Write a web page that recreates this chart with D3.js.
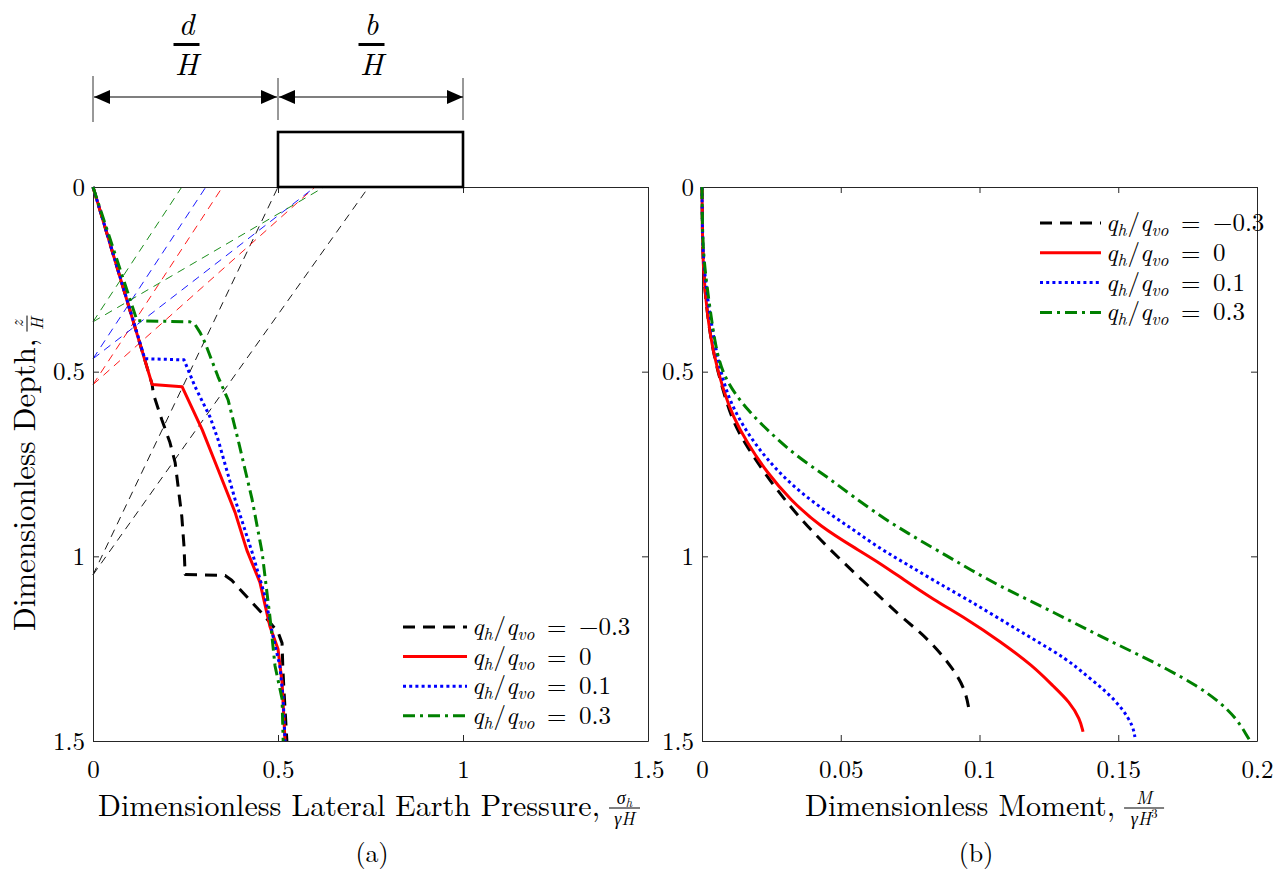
<!DOCTYPE html>
<html><head><meta charset="utf-8">
<script src="https://cdn.jsdelivr.net/npm/d3@7"></script>
<style>
body{margin:0;background:#fff}
svg{display:block}
text{font-family:"Latin Modern Roman","Liberation Serif",serif;fill:#000}
</style>
</head><body>
<svg id="c" width="1282" height="869"></svg>
<script>
// ---------------- DATA ----------------
const pressureTicks = [0, 0.5, 1, 1.5];
const momentTicks = [0, 0.05, 0.1, 0.15, 0.2];
const depthTicks = [0, 0.5, 1, 1.5];
const ratioLabels = ["\u22120.3", "0", "0.1", "0.3"];
const footingEdges = [0.5, 1.0];          // d/H and d/H + b/H
const dimLabels = ["d", "b"];

// lateral earth pressure [sigma_h/(gamma H), z/H]
const pressureM03 = [[0,0],[0.16,0.535],[0.163,0.56],[0.186,0.63],[0.208,0.692],[0.222,0.746],[0.23,0.811],[0.24,0.892],[0.246,0.973],[0.249,1.049],[0.357,1.052],[0.375,1.065],[0.405,1.098],[0.455,1.152],[0.50,1.205],[0.511,1.235],[0.513,1.3],[0.516,1.36],[0.52,1.43],[0.524,1.5]];
const pressure0 = [[0,0],[0.16,0.535],[0.241,0.541],[0.295,0.657],[0.338,0.765],[0.384,0.881],[0.416,0.984],[0.451,1.07],[0.478,1.189],[0.5,1.251],[0.511,1.341],[0.519,1.5]];
const pressure01 = [[0,0],[0.14,0.465],[0.246,0.468],[0.276,0.541],[0.316,0.622],[0.338,0.684],[0.384,0.846],[0.43,0.989],[0.465,1.108],[0.484,1.205],[0.505,1.297],[0.514,1.386],[0.519,1.5]];
const pressure03 = [[0,0],[0.119,0.362],[0.262,0.365],[0.276,0.373],[0.29,0.395],[0.303,0.422],[0.338,0.514],[0.365,0.576],[0.392,0.684],[0.43,0.846],[0.457,0.989],[0.47,1.097],[0.478,1.162],[0.492,1.297],[0.511,1.386],[0.514,1.5]];

// construction lines [[x,z],[x,z]]
const guideM03 = [[[0,1.05],[0.5,0]], [[0,1.05],[0.745,0]]];
const guide0   = [[[0,0.535],[0.35,0]], [[0,0.535],[0.6,0]]];
const guide01  = [[[0,0.465],[0.305,0]], [[0,0.465],[0.6,0]]];
const guide03  = [[[0,0.365],[0.24,0]], [[0,0.365],[0.625,0]]];

// moment [M/(gamma H^3), z/H]
const momentM03 = [[0,0],[0.0001,0.1],[0.0004,0.224],[0.0018,0.341],[0.004,0.449],[0.0075,0.55],[0.0112,0.638],[0.0162,0.703],[0.0234,0.784],[0.0317,0.865],[0.04,0.935],[0.0497,1.008],[0.06,1.08],[0.0714,1.162],[0.0786,1.205],[0.0847,1.251],[0.0905,1.305],[0.0948,1.359],[0.0962,1.414]];
const moment0 = [[0,0],[0.0001,0.1],[0.0004,0.224],[0.0018,0.341],[0.004,0.449],[0.0076,0.549],[0.0112,0.622],[0.0162,0.692],[0.0234,0.773],[0.0317,0.846],[0.0425,0.919],[0.0559,0.981],[0.0636,1.016],[0.0725,1.062],[0.0832,1.116],[0.0955,1.17],[0.1074,1.23],[0.1193,1.297],[0.1265,1.351],[0.1326,1.395],[0.1362,1.441],[0.1373,1.475]];
const moment01 = [[0,0],[0.0001,0.1],[0.0005,0.22],[0.0036,0.386],[0.0065,0.495],[0.0101,0.584],[0.0162,0.665],[0.0234,0.738],[0.0328,0.811],[0.0436,0.873],[0.0544,0.927],[0.0645,0.981],[0.074,1.022],[0.0845,1.07],[0.0955,1.116],[0.1074,1.17],[0.1193,1.224],[0.1315,1.278],[0.1387,1.324],[0.146,1.368],[0.1517,1.414],[0.1553,1.459],[0.156,1.489]];
const moment03 = [[0,0],[0.0001,0.1],[0.0006,0.2],[0.0029,0.332],[0.0054,0.459],[0.009,0.53],[0.0162,0.603],[0.0245,0.665],[0.0342,0.73],[0.045,0.784],[0.0544,0.838],[0.066,0.9],[0.077,0.95],[0.0885,1.0],[0.0965,1.035],[0.1074,1.081],[0.1193,1.124],[0.1315,1.17],[0.1434,1.216],[0.1553,1.259],[0.1676,1.305],[0.1785,1.351],[0.1867,1.395],[0.1928,1.441],[0.1964,1.486],[0.1975,1.5]];

// ---------------- STYLE / LAYOUT ----------------
const styles = [
  {color:"#000000", dash:"12,8"},
  {color:"#ff0000", dash:null},
  {color:"#0000ff", dash:"3,3.2"},
  {color:"#008000", dash:"12,5,3,5"}
];
const pressureSeries = [pressureM03, pressure0, pressure01, pressure03];
const momentSeries = [momentM03, moment0, moment01, moment03];
const guideSeries = [guideM03, guide0, guide01, guide03];

const FONT = '"Latin Modern Roman","Liberation Serif",serif';
const GREEK = '"Liberation Serif",serif';
const svg = d3.select("#c");

const xL = d3.scaleLinear().domain([0,1.5]).range([93,648]);
const xR = d3.scaleLinear().domain([0,0.2]).range([702,1257]);
const y  = d3.scaleLinear().domain([0,1.5]).range([187,741]);

function fmt(d){ return String(d); }

function drawAxes(x, xt) {
  const g = svg.append("g");
  const [x0,x1] = x.range(), [y0,y1] = y.range();
  const style = s => {
    s.attr("font-family", FONT).attr("font-size", 25);
    s.selectAll(".domain").attr("stroke","#262626").attr("stroke-width",1);
    s.selectAll(".tick line").attr("stroke","#262626").attr("stroke-width",1);
    s.selectAll(".tick text").attr("fill","#000");
  };
  g.append("g").attr("transform",`translate(0,${y1})`)
    .call(d3.axisBottom(x).tickValues(xt).tickSizeInner(-6).tickSizeOuter(0).tickPadding(19).tickFormat(fmt)).call(style);
  g.append("g").attr("transform",`translate(0,${y0})`)
    .call(d3.axisTop(x).tickValues(xt).tickSizeInner(-6).tickSizeOuter(0).tickFormat(()=>"")).call(style);
  g.append("g").attr("transform",`translate(${x0},0)`)
    .call(d3.axisLeft(y).tickValues(depthTicks).tickSizeInner(-6).tickSizeOuter(0).tickPadding(8).tickFormat(fmt)).call(style);
  g.append("g").attr("transform",`translate(${x1},0)`)
    .call(d3.axisRight(y).tickValues(depthTicks).tickSizeInner(-6).tickSizeOuter(0).tickFormat(()=>"")).call(style);
}

function drawCurves(x, series, width, curve) {
  const line = d3.line().x(d=>x(d[0])).y(d=>y(d[1])).curve(curve);
  series.forEach((s,i)=>{
    svg.append("path").attr("d", line(s)).attr("fill","none")
      .attr("stroke", styles[i].color).attr("stroke-width", width)
      .attr("stroke-dasharray", styles[i].dash)
      .attr("stroke-linejoin","round");
  });
}

// q_h/q_vo = value
function qLabel(g, xx, yy, val, fs) {
  const t = g.append("text").attr("x",xx).attr("y",yy).attr("font-size",fs).attr("font-family",FONT);
  const sub = fs*0.7, sh = fs*0.2;
  t.append("tspan").attr("font-style","italic").text("q");
  t.append("tspan").attr("font-style","italic").attr("font-size",sub).attr("dy",sh).text("h");
  t.append("tspan").attr("dy",-sh).attr("dx",1).text("/");
  t.append("tspan").attr("font-style","italic").text("q");
  t.append("tspan").attr("font-style","italic").attr("font-size",sub).attr("dy",sh).text("vo");
  t.append("tspan").attr("dy",-sh).text("\u00A0=\u00A0" + val);
}

function drawLegend(lx0, lx1, ly, dy, fs) {
  const g = svg.append("g");
  styles.forEach((s,i)=>{
    const yy = ly + i*dy;
    g.append("line").attr("x1",lx0).attr("x2",lx1).attr("y1",yy).attr("y2",yy)
      .attr("stroke",s.color).attr("stroke-width",3).attr("stroke-dasharray",s.dash);
    qLabel(g, lx1+5, yy+8, ratioLabels[i], fs);
  });
}

// guides
const gline = d3.line().x(d=>xL(d[0])).y(d=>y(d[1]));
guideSeries.forEach((gs,i)=>{
  gs.forEach(seg=>{
    svg.append("path").attr("d", gline(seg)).attr("fill","none")
      .attr("stroke", styles[i].color).attr("stroke-width",0.9).attr("stroke-dasharray","8,6");
  });
});

drawAxes(xL, pressureTicks);
drawAxes(xR, momentTicks);
drawCurves(xL, pressureSeries, 3, d3.curveLinear);
drawCurves(xR, momentSeries, 3, d3.curveBasis);
drawLegend(403, 467, 627, 29.6, 25);
drawLegend(1040, 1101, 223, 29.8, 25);

// ---------- footing annotation ----------
const ann = svg.append("g");
ann.append("rect").attr("x", xL(footingEdges[0])).attr("y",132)
  .attr("width", xL(footingEdges[1])-xL(footingEdges[0])).attr("height", y(0)-132)
  .attr("fill","none").attr("stroke","#000").attr("stroke-width",2.6);
const ext = [0, footingEdges[0], footingEdges[1]];
ext.forEach((v,i)=>{
  ann.append("line").attr("x1",xL(v)).attr("x2",xL(v)).attr("y1", i===0?76:78).attr("y2", i===0?122:120)
    .attr("stroke","#333").attr("stroke-width",1);
});
function arrow(xa, xb, yy) {
  ann.append("line").attr("x1",xa).attr("x2",xb).attr("y1",yy).attr("y2",yy).attr("stroke","#000").attr("stroke-width",1.2);
  const L=16, W=7;
  ann.append("path").attr("d",`M${xa},${yy}L${xa+L},${yy-W}L${xa+L},${yy+W}Z`).attr("fill","#000");
  ann.append("path").attr("d",`M${xb},${yy}L${xb-L},${yy-W}L${xb-L},${yy+W}Z`).attr("fill","#000");
}
arrow(xL(0)+1, xL(footingEdges[0])-1, 97);
arrow(xL(footingEdges[0])+1, xL(footingEdges[1]), 97);
[[0,footingEdges[0]],[footingEdges[0],footingEdges[1]]].forEach((p,i)=>{
  const cx = (xL(p[0])+xL(p[1]))/2 + 1;
  ann.append("text").attr("x",cx).attr("y",35).attr("text-anchor","middle").attr("font-size",31)
    .attr("font-family",GREEK).attr("font-style","italic").text(dimLabels[i]);
  ann.append("rect").attr("x",cx-13).attr("y",43).attr("width",26).attr("height",3).attr("fill","#000");
  ann.append("text").attr("x",cx).attr("y",75).attr("text-anchor","middle").attr("font-size",31)
    .attr("font-family",GREEK).attr("font-style","italic").text("H");
});

// ---------- axis labels ----------
function fraction(g, cx, cyBar, numFn, denFn, fs, w) {
  const num = g.append("text").attr("x",cx).attr("y",cyBar-4).attr("text-anchor","middle").attr("font-size",fs);
  numFn(num, fs);
  g.append("line").attr("x1",cx-w/2).attr("x2",cx+w/2).attr("y1",cyBar).attr("y2",cyBar).attr("stroke","#000").attr("stroke-width",1);
  const den = g.append("text").attr("x",cx).attr("y",cyBar+fs*0.95).attr("text-anchor","middle").attr("font-size",fs);
  denFn(den, fs);
}
function xLabel(x0, yb, label, numFn, denFn, fw) {
  const g = svg.append("g");
  const t = g.append("text").attr("x",x0).attr("y",yb).attr("font-size",30).text(label);
  const len = t.node().getComputedTextLength();
  fraction(g, x0+len+9+fw/2, yb-8, numFn, denFn, 18, fw);
}
xLabel(98, 816, "Dimensionless Lateral Earth Pressure,",
  (t,fs)=>{ t.append("tspan").attr("font-family",GREEK).attr("font-style","italic").text("\u03C3"); t.append("tspan").attr("font-style","italic").attr("font-size",fs*0.7).attr("dy",3).text("h"); },
  (t,fs)=>{ t.append("tspan").attr("font-family",GREEK).attr("font-style","italic").text("\u03B3"); t.append("tspan").attr("font-style","italic").text("H"); }, 31);
xLabel(805, 816, "Dimensionless Moment,",
  (t,fs)=>{ t.append("tspan").attr("font-style","italic").text("M"); },
  (t,fs)=>{ t.append("tspan").attr("font-family",GREEK).attr("font-style","italic").text("\u03B3"); t.append("tspan").attr("font-style","italic").text("H"); t.append("tspan").attr("font-size",fs*0.7).attr("dy",-7).text("3"); }, 40);

// y label (rotated)
{
  const g = svg.append("g").attr("transform","translate(35,631) rotate(-90)");
  const t = g.append("text").attr("x",0).attr("y",0).attr("font-size",31).text("Dimensionless Depth,");
  const len = t.node().getComputedTextLength();
  fraction(g, len+15, -8,
    (t2)=>{ t2.append("tspan").attr("font-style","italic").text("z"); },
    (t2)=>{ t2.append("tspan").attr("font-style","italic").text("H"); }, 17, 16);
}

svg.append("text").attr("x",372).attr("y",862).attr("text-anchor","middle").attr("font-size",26).text("(a)");
svg.append("text").attr("x",976).attr("y",862).attr("text-anchor","middle").attr("font-size",26).text("(b)");
</script>
</body></html>
